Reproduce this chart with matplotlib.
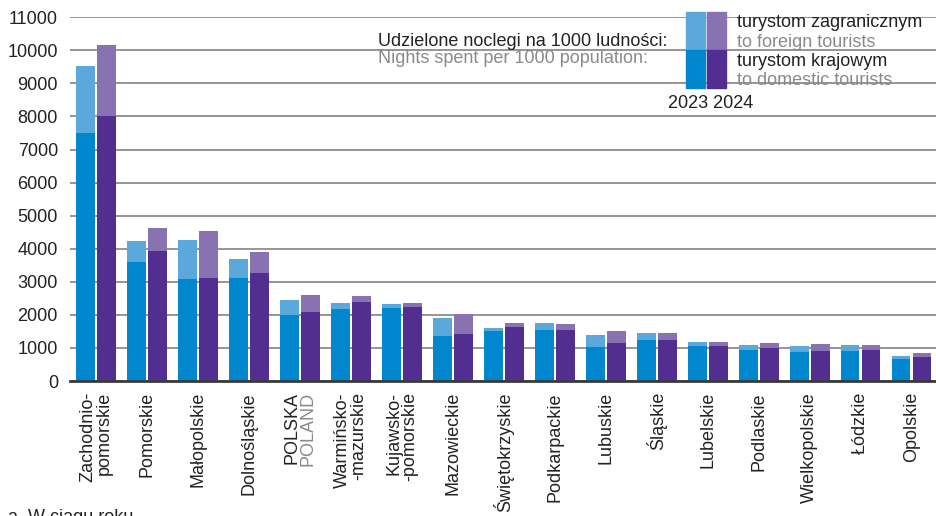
import matplotlib.pyplot as plt
from matplotlib.patches import Rectangle
import numpy as np

plt.rcParams['font.family'] = ['Liberation Sans', 'DejaVu Sans']

regions = ['Zachodnio-\npomorskie', 'Pomorskie', 'Małopolskie', 'Dolnośląskie',
           '', 'Warmińsko-\n-mazurskie', 'Kujawsko-\n-pomorskie', 'Mazowieckie',
           'Świętokrzyskie', 'Podkarpackie', 'Lubuskie', 'Śląskie', 'Lubelskie',
           'Podlaskie', 'Wielkopolskie', 'Łódzkie', 'Opolskie']

# nights spent per 1000 population
domestic_2023 = [7500, 3600, 3080, 3110, 2000, 2170, 2200, 1355, 1505, 1535, 1020, 1230, 1050, 930, 870, 900, 660]
foreign_2023 = [2020, 630, 1180, 575, 445, 175, 120, 545, 90, 210, 365, 215, 120, 150, 180, 180, 90]
domestic_2024 = [8010, 3930, 3120, 3260, 2080, 2385, 2230, 1415, 1625, 1535, 1140, 1230, 1050, 990, 900, 930, 720]
foreign_2024 = [2150, 690, 1420, 640, 515, 180, 120, 605, 120, 180, 365, 215, 120, 150, 210, 150, 120]

c_dom_23 = '#0087cd'
c_for_23 = '#5ba8dd'
c_dom_24 = '#512e8f'
c_for_24 = '#8972b2'
dark = '#222222'
grey = '#8a8a8a'

W, H = 937, 516
fig = plt.figure(figsize=(W / 100, H / 100), dpi=100)
ax = fig.add_axes([70.5 / W, 1 - 381 / H, 1 - 70.5 / W, (381 - 17.3) / H])

x = np.arange(len(regions))
bw = 0.37
off = 0.206
ax.bar(x - off, domestic_2023, bw, color=c_dom_23, zorder=2)
ax.bar(x - off, foreign_2023, bw, bottom=domestic_2023, color=c_for_23, zorder=2)
ax.bar(x + off, domestic_2024, bw, color=c_dom_24, zorder=2)
ax.bar(x + off, foreign_2024, bw, bottom=domestic_2024, color=c_for_24, zorder=2)

ax.set_xlim(-0.5, len(regions) - 0.5)
ax.set_ylim(0, 11000)
ax.set_yticks(np.arange(0, 11001, 1000))
ax.yaxis.grid(True, color='#8c8c8c', lw=1.3)
ax.set_axisbelow(True)
for s in ['top', 'right', 'left']:
    ax.spines[s].set_visible(False)
ax.spines['bottom'].set_color('#3a3a3a')
ax.spines['bottom'].set_linewidth(2)
ax.spines['bottom'].set_zorder(3)

ax.tick_params(axis='y', length=0, pad=9, labelsize=13, labelcolor=dark)
ax.tick_params(axis='x', length=0, pad=8, labelsize=13, labelcolor=dark)
ax.set_xticks(x)
ax.set_xticklabels(regions, rotation=90, linespacing=0.95)
for lbl in ax.get_xticklabels():
    lbl.set_multialignment('right')

# country total: Polish name in black, English name in grey beside it
for txt, col, dx in [('POLSKA', dark, -5.6), ('POLAND', grey, 5.6)]:
    ax.annotate(txt, xy=(4, 0), xycoords=ax.get_xaxis_transform(),
                xytext=(dx, -8), textcoords='offset points', rotation=90,
                ha='center', va='top', fontsize=13, color=col)


def fx(px):
    return px / W


def fy(py):
    return 1 - py / H


# legend
fig.text(fx(378), fy(46), 'Udzielone noclegi na 1000 ludności:', fontsize=13,
         color=dark, va='baseline')
fig.text(fx(378), fy(63), 'Nights spent per 1000 population:', fontsize=13,
         color=grey, va='baseline')
for left, top_c, bot_c in [(686, c_for_23, c_dom_23), (707, c_for_24, c_dom_24)]:
    fig.add_artist(Rectangle((fx(left), fy(50)), 19 / W, 38 / H, color=top_c,
                             transform=fig.transFigure))
    fig.add_artist(Rectangle((fx(left), fy(88)), 19 / W, 38 / H, color=bot_c,
                             transform=fig.transFigure))
legend_lines = [('turystom zagranicznym', dark, 27), ('to foreign tourists', grey, 47),
                ('turystom krajowym', dark, 66), ('to domestic tourists', grey, 85)]
for txt, col, yy in legend_lines:
    fig.text(fx(737), fy(yy), txt, fontsize=13, color=col, va='baseline')
fig.text(fx(668), fy(108), '2023 2024', fontsize=13, color=dark, va='baseline')

fig.text(fx(8), fy(509), 'a  W ciągu roku.', fontsize=13, color=dark, va='top')

fig.savefig('out.png', dpi=100)
